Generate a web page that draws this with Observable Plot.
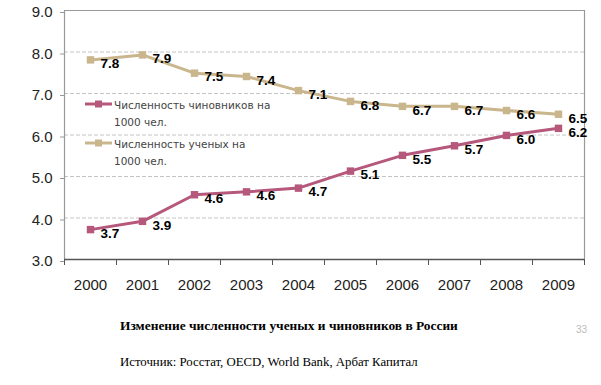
<!DOCTYPE html>
<html><head><meta charset="utf-8">
<script src="https://cdn.jsdelivr.net/npm/d3@7"></script>
<script src="https://cdn.jsdelivr.net/npm/@observablehq/plot@0.6"></script>
<style>
body{margin:0;background:#fff;width:601px;height:385px;position:relative;overflow:hidden;font-family:"Liberation Sans",Arial,sans-serif}
#chart{position:absolute;left:0;top:0}
.leg{position:absolute;left:85px;font-family:"DejaVu Sans",sans-serif;font-size:10.5px;color:#444;line-height:17px}
.leg svg{position:absolute;left:0;top:2px}
.leg div{margin-left:29px}
.title{position:absolute;left:120px;top:318px;font-family:"Liberation Serif","Times New Roman",serif;font-weight:bold;font-size:13.4px;color:#000;white-space:nowrap}
.src{position:absolute;left:120px;top:355px;font-family:"Liberation Serif","Times New Roman",serif;font-size:12.8px;color:#000;white-space:nowrap}
.page{position:absolute;left:576px;top:324px;font-size:10px;color:#bbb}
</style>
</head><body>
<div id="chart"></div>
<script>
const years = [2000, 2001, 2002, 2003, 2004, 2005, 2006, 2007, 2008, 2009];
const officials = [3.72, 3.92, 4.56, 4.63, 4.72, 5.13, 5.51, 5.74, 5.99, 6.16];
const scientists = [7.81, 7.93, 7.49, 7.41, 7.07, 6.81, 6.69, 6.69, 6.59, 6.50];
const seriesNames = ["Численность чиновников на 1000 чел.", "Численность ученых на 1000 чел."];
const colors = ["#b5587c", "#cab68c"];
const yTicks = [3, 4, 5, 6, 7, 8, 9];
const gridTicks = [4, 5, 6, 7, 8];
const titleText = "Изменение численности ученых и чиновников в России";
const sourceText = "Источник: Росстат, OECD, World Bank, Арбат Капитал";

const data = [];
years.forEach((y, i) => {
  data.push({year: y, value: officials[i], series: seriesNames[0]});
  data.push({year: y, value: scientists[i], series: seriesNames[1]});
});
const x0 = years[0] - 0.5, x1 = years[years.length - 1] + 0.5;
const bounds = years.map(y => y - 0.5).concat([x1]);
const fmt = d3.format(".1f");

const chart = Plot.plot({
  width: 601,
  height: 300,
  marginLeft: 64,
  marginRight: 17,
  marginTop: 10,
  marginBottom: 41,
  style: {fontFamily: "'Liberation Sans', Arial, sans-serif", background: "#fff", overflow: "visible"},
  x: {type: "linear", domain: [x0, x1], label: null},
  y: {domain: [3, 9], label: null},
  color: {domain: seriesNames, range: colors},
  marks: [
    Plot.ruleY(gridTicks, {stroke: "#c4c4c4", strokeDasharray: "4,2", strokeWidth: 1}),
    Plot.ruleY([9], {stroke: "#999", strokeWidth: 1.2}),
    Plot.ruleX([x1], {stroke: "#999", strokeWidth: 1.2}),
    Plot.ruleX([x0], {stroke: "#999", strokeWidth: 1.2}),
    Plot.ruleY([3], {stroke: "#555", strokeWidth: 1.3}),
    Plot.axisY({ticks: yTicks, tickFormat: fmt, tickSize: 4, tickPadding: 8, stroke: "#999", fontSize: 15, fill: "#222", dy: 2, label: null}),
    Plot.axisX({ticks: bounds, tickFormat: () => "", tickSize: 6, stroke: "#555", label: null}),
    Plot.axisX({ticks: years, tickFormat: d => String(d), tickSize: 0, tickPadding: 20, fontSize: 15, fill: "#222", label: null}),
    Plot.line(data, {x: "year", y: "value", stroke: "series", strokeWidth: 3}),
    Plot.dot(data, {x: "year", y: "value", fill: "series", symbol: "square", r: 4.2}),
    Plot.text(data, {x: "year", y: "value", text: d => fmt(d.value), textAnchor: "start", dx: 10, dy: 4, fontWeight: "bold", fontSize: 13.5, fill: "#000"})
  ]
});
document.getElementById("chart").appendChild(chart);

function legendItem(name, color, top) {
  const el = document.createElement("div");
  el.className = "leg";
  el.style.top = top + "px";
  const parts = name.split(" 1000");
  el.innerHTML = `<svg width="28" height="10"><line x1="0" x2="27" y1="5" y2="5" stroke="${color}" stroke-width="3"/><rect x="10" y="1.5" width="7" height="7" fill="${color}"/></svg><div>${parts[0]}</div><div>1000${parts[1]}</div>`;
  document.body.appendChild(el);
}
legendItem(seriesNames[0], colors[0], 97);
legendItem(seriesNames[1], colors[1], 136);

const t = document.createElement("div"); t.className = "title"; t.textContent = titleText; document.body.appendChild(t);
const s = document.createElement("div"); s.className = "src"; s.textContent = sourceText; document.body.appendChild(s);
const p = document.createElement("div"); p.className = "page"; p.textContent = "33"; document.body.appendChild(p);
</script>
</body></html>
